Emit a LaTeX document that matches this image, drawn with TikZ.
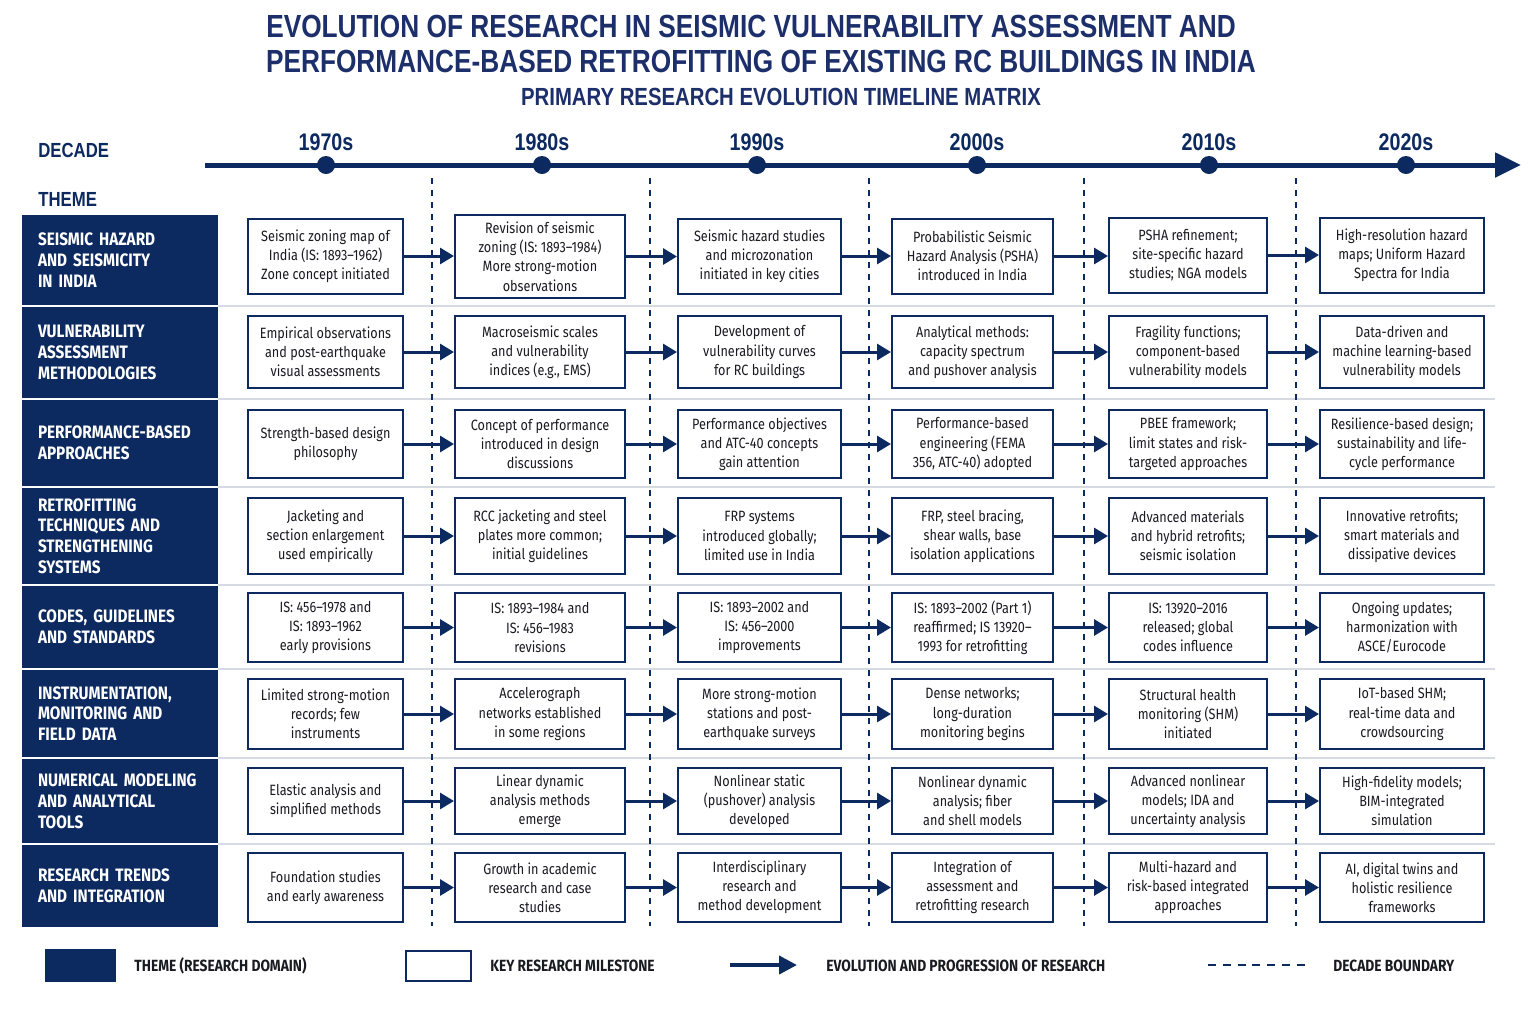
\documentclass[tikz,border=0pt]{standalone}
\usepackage{fontspec}
\setmainfont{Fira Sans}[FakeStretch=0.85]
\newfontfamily\titlefont{Liberation Sans}[FakeStretch=0.82]
\usetikzlibrary{arrows.meta}
\definecolor{navy}{HTML}{0C2A60}
\definecolor{ttl}{HTML}{1C2F6B}
\definecolor{ink}{HTML}{1A1A22}
\definecolor{sep}{HTML}{D5DAE3}
\tikzset{
  ms/.style={draw=navy, line width=1pt, fill=white, inner sep=0pt, align=center, text=ink,
    font=\fontsize{7.45}{9.6}\selectfont},
  theme/.style={fill=navy, inner xsep=8pt, inner ysep=0pt, text width=82pt, minimum width=98pt,
    align=left, text=white, font=\fontsize{9}{10.4}\selectfont\bfseries},
  flow/.style={draw=navy, line width=1.5pt, -{Triangle[length=7pt,width=8pt]}},
  boundary/.style={draw=navy, line width=0.75pt, dash pattern=on 3pt off 3pt},
  sepline/.style={draw=sep, line width=0.6pt},
  dot/.style={circle, fill=navy, minimum size=9pt, inner sep=0pt},
  decade/.style={text=navy, font=\titlefont\fontsize{12}{14}\selectfont\bfseries},
  head/.style={text=navy, anchor=west, inner xsep=0pt, font=\titlefont\fontsize{10.2}{13}\selectfont\bfseries},
  legtext/.style={text=ink, anchor=west, inner xsep=0pt, font=\fontsize{8.1}{10}\selectfont\bfseries},
  c1/.style={minimum width=77.5pt}, c2/.style={minimum width=85pt}, c3/.style={minimum width=81.5pt},
  c4/.style={minimum width=80.5pt}, c5/.style={minimum width=79pt}, c6/.style={minimum width=82pt},
  r1/.style={minimum height=37.5pt}, r2/.style={minimum height=36pt}, r3/.style={minimum height=34pt},
  r4/.style={minimum height=38pt}, r5/.style={minimum height=34.5pt}, r6/.style={minimum height=35pt},
  r7/.style={minimum height=33pt}, r8/.style={minimum height=34.5pt}
}
\begin{document}
\begin{tikzpicture}[x=0.5pt,y=-0.5pt]
\fill[white] (0,0) rectangle (1536,1024);
\useasboundingbox (0,0) rectangle (1536,1024);

% titles
\node[text=ttl, font=\titlefont\fontsize{16}{18}\selectfont\bfseries] (title1) at (751,26) {EVOLUTION OF RESEARCH IN SEISMIC VULNERABILITY ASSESSMENT AND};
\node[text=ttl, font=\titlefont\fontsize{16}{18}\selectfont\bfseries] (title2) at (761,61) {PERFORMANCE-BASED RETROFITTING OF EXISTING RC BUILDINGS IN INDIA};
\node[text=ttl, font=\titlefont\fontsize{12.4}{14}\selectfont\bfseries] (sub) at (781,97) {PRIMARY RESEARCH EVOLUTION TIMELINE MATRIX};

\node[head] (hdec) at (38,150) {DECADE};
\node[head] (hthm) at (38,199) {THEME};

% timeline
\coordinate (tls) at (205,165);
\coordinate (tle) at (1521,165);
\draw[navy, line width=2.5pt, -{Triangle[length=13pt,width=12pt]}] (tls) -- (tle);
\foreach \n/\x/\lab in {1/326/1970s,2/542/1980s,3/757/1990s,4/977/2000s,5/1209/2010s,6/1406/2020s}{
  \node[dot] (d\n) at (\x,165) {};
  \node[decade] (dl\n) at (\x,142) {\lab};
}

% theme column
\node[theme, minimum height=45pt] (t1) at (120,260) {SEISMIC HAZARD\\AND SEISMICITY\\IN INDIA};
\node[theme, minimum height=45.5pt] (t2) at (120,352.5) {VULNERABILITY\\ASSESSMENT\\METHODOLOGIES};
\node[theme, minimum height=43pt] (t3) at (120,443) {PERFORMANCE-BASED\\APPROACHES};
\node[theme, minimum height=48pt] (t4) at (120,536) {RETROFITTING\\TECHNIQUES AND\\STRENGTHENING\\SYSTEMS};
\node[theme, minimum height=41pt] (t5) at (120,627) {CODES, GUIDELINES\\AND STANDARDS};
\node[theme, minimum height=43.5pt] (t6) at (120,713.5) {INSTRUMENTATION,\\MONITORING AND\\FIELD DATA};
\node[theme, minimum height=42pt] (t7) at (120,801) {NUMERICAL MODELING\\AND ANALYTICAL\\TOOLS};
\node[theme, minimum height=41pt] (t8) at (120,886) {RESEARCH TRENDS\\AND INTEGRATION};

% row separators
\foreach \yy in {306,399,487,585,669,758,844}{
  \coordinate (sepA) at (218,\yy);
  \coordinate (sepB) at (1495,\yy);
  \draw[sepline] (sepA) -- (sepB);
}

% decade boundaries
\foreach \n/\x in {1/432,2/650,3/869,4/1084,5/1296}{
  \coordinate (bt\n) at (\x,178);
  \coordinate (bb\n) at (\x,926);
  \draw[boundary] (bt\n) -- (bb\n);
}

% row 1
\node[ms,c1,r1] (m11) at (325.5,256) {Seismic zoning map of\\India (IS: 1893–1962)\\Zone concept initiated};
\node[ms,c2,minimum height=41.5pt] (m12) at (540,256.5) {Revision of seismic\\zoning (IS: 1893–1984)\\More strong-motion\\observations};
\node[ms,c3,r1] (m13) at (759.5,256) {Seismic hazard studies\\and microzonation\\initiated in key cities};
\node[ms,c4,r1] (m14) at (972.5,256) {Probabilistic Seismic\\Hazard Analysis (PSHA)\\introduced in India};
\node[ms,c5,r1] (m15) at (1188,255) {PSHA refinement;\\site-specific hazard\\studies; NGA models};
\node[ms,c6,r1] (m16) at (1402,255) {High-resolution hazard\\maps; Uniform Hazard\\Spectra for India};
% row 2
\node[ms,c1,r2] (m21) at (325.5,352) {Empirical observations\\and post-earthquake\\visual assessments};
\node[ms,c2,r2] (m22) at (540,352) {Macroseismic scales\\and vulnerability\\indices (e.g., EMS)};
\node[ms,c3,r2] (m23) at (759.5,352) {Development of\\vulnerability curves\\for RC buildings};
\node[ms,c4,r2] (m24) at (972.5,352) {Analytical methods:\\capacity spectrum\\and pushover analysis};
\node[ms,c5,r2] (m25) at (1188,352) {Fragility functions;\\component-based\\vulnerability models};
\node[ms,c6,r2] (m26) at (1402,352) {Data-driven and\\machine learning-based\\vulnerability models};
% row 3
\node[ms,c1,r3] (m31) at (325.5,444) {Strength-based design\\philosophy};
\node[ms,c2,r3] (m32) at (540,444) {Concept of performance\\introduced in design\\discussions};
\node[ms,c3,r3] (m33) at (759.5,444) {Performance objectives\\and ATC-40 concepts\\gain attention};
\node[ms,c4,r3] (m34) at (972.5,444) {Performance-based\\engineering (FEMA\\356, ATC-40) adopted};
\node[ms,c5,r3] (m35) at (1188,444) {PBEE framework;\\limit states and risk-\\targeted approaches};
\node[ms,c6,r3] (m36) at (1402,444) {Resilience-based design;\\sustainability and life-\\cycle performance};
% row 4
\node[ms,c1,r4] (m41) at (325.5,536) {Jacketing and\\section enlargement\\used empirically};
\node[ms,c2,r4] (m42) at (540,536) {RCC jacketing and steel\\plates more common;\\initial guidelines};
\node[ms,c3,r4] (m43) at (759.5,536) {FRP systems\\introduced globally;\\limited use in India};
\node[ms,c4,r4] (m44) at (972.5,536) {FRP, steel bracing,\\shear walls, base\\isolation applications};
\node[ms,c5,r4] (m45) at (1188,536) {Advanced materials\\and hybrid retrofits;\\seismic isolation};
\node[ms,c6,r4] (m46) at (1402,536) {Innovative retrofits;\\smart materials and\\dissipative devices};
% row 5
\node[ms,c1,r5] (m51) at (325.5,627.5) {IS: 456–1978 and\\IS: 1893–1962\\early provisions};
\node[ms,c2,r5] (m52) at (540,627.5) {IS: 1893–1984 and\\IS: 456–1983\\revisions};
\node[ms,c3,r5] (m53) at (759.5,627.5) {IS: 1893–2002 and\\IS: 456–2000\\improvements};
\node[ms,c4,r5] (m54) at (972.5,627.5) {IS: 1893–2002 (Part 1)\\reaffirmed; IS 13920–\\1993 for retrofitting};
\node[ms,c5,r5] (m55) at (1188,627.5) {IS: 13920–2016\\released; global\\codes influence};
\node[ms,c6,r5] (m56) at (1402,627.5) {Ongoing updates;\\harmonization with\\ASCE/Eurocode};
% row 6
\node[ms,c1,r6] (m61) at (325.5,714) {Limited strong-motion\\records; few\\instruments};
\node[ms,c2,r6] (m62) at (540,714) {Accelerograph\\networks established\\in some regions};
\node[ms,c3,r6] (m63) at (759.5,714) {More strong-motion\\stations and post-\\earthquake surveys};
\node[ms,c4,r6] (m64) at (972.5,714) {Dense networks;\\long-duration\\monitoring begins};
\node[ms,c5,r6] (m65) at (1188,714) {Structural health\\monitoring (SHM)\\initiated};
\node[ms,c6,r6] (m66) at (1402,714) {IoT-based SHM;\\real-time data and\\crowdsourcing};
% row 7
\node[ms,c1,r7] (m71) at (325.5,801) {Elastic analysis and\\simplified methods};
\node[ms,c2,r7] (m72) at (540,801) {Linear dynamic\\analysis methods\\emerge};
\node[ms,c3,r7] (m73) at (759.5,801) {Nonlinear static\\(pushover) analysis\\developed};
\node[ms,c4,r7] (m74) at (972.5,801) {Nonlinear dynamic\\analysis; fiber\\and shell models};
\node[ms,c5,r7] (m75) at (1188,801) {Advanced nonlinear\\models; IDA and\\uncertainty analysis};
\node[ms,c6,r7] (m76) at (1402,801) {High-fidelity models;\\BIM-integrated\\simulation};
% row 8
\node[ms,c1,r8] (m81) at (325.5,887.5) {Foundation studies\\and early awareness};
\node[ms,c2,r8] (m82) at (540,887.5) {Growth in academic\\research and case\\studies};
\node[ms,c3,r8] (m83) at (759.5,887.5) {Interdisciplinary\\research and\\method development};
\node[ms,c4,r8] (m84) at (972.5,887.5) {Integration of\\assessment and\\retrofitting research};
\node[ms,c5,r8] (m85) at (1188,887.5) {Multi-hazard and\\risk-based integrated\\approaches};
\node[ms,c6,r8] (m86) at (1402,887.5) {AI, digital twins and\\holistic resilience\\frameworks};

% arrows
\foreach \r in {1,...,8}{
  \foreach \a/\b in {1/2,2/3,3/4,4/5,5/6}{
    \draw[flow] (m\r\a.east) -- (m\r\a.east -| m\r\b.west);
  }
}

% legend
\node[fill=navy, minimum width=35.5pt, minimum height=16.5pt, inner sep=0pt] (lg1) at (80.5,965.5) {};
\node[legtext] (lt1) at (134,966) {THEME (RESEARCH DOMAIN)};
\node[draw=navy, line width=1pt, fill=white, minimum width=32.5pt, minimum height=15pt, inner sep=0pt] (lg2) at (438.5,966) {};
\node[legtext] (lt2) at (490,966) {KEY RESEARCH MILESTONE};
\coordinate (la1) at (730,965);
\coordinate (la2) at (797,965);
\draw[navy, line width=2pt, -{Triangle[length=9pt,width=9pt]}] (la1) -- (la2);
\node[legtext] (lt3) at (826,966) {EVOLUTION AND PROGRESSION OF RESEARCH};
\coordinate (ld1) at (1208,965);
\coordinate (ld2) at (1311,965);
\draw[navy, line width=1pt, dash pattern=on 4pt off 3.4pt] (ld1) -- (ld2);
\node[legtext] (lt4) at (1333,966) {DECADE BOUNDARY};
\end{tikzpicture}
\end{document}
